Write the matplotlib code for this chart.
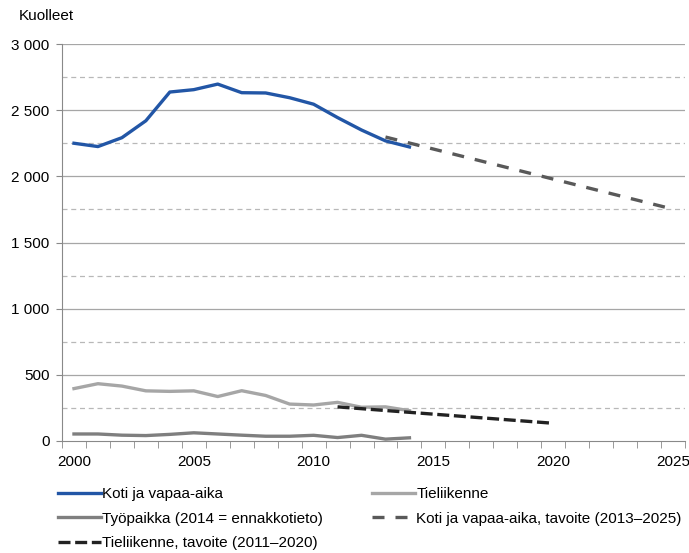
import matplotlib.pyplot as plt
from matplotlib.ticker import FuncFormatter, MultipleLocator

plt.rcParams['font.family'] = ['Liberation Sans', 'DejaVu Sans']

years = list(range(2000, 2015))
koti = [2250, 2225, 2292, 2420, 2637, 2655, 2697, 2632, 2630, 2594, 2545, 2444, 2350, 2268, 2222]
tieliikenne = [396, 433, 415, 379, 375, 379, 336, 380, 344, 279, 272, 292, 255, 258, 229]
tyopaikka = [53, 53, 44, 41, 50, 62, 53, 44, 36, 36, 43, 26, 43, 14, 24]

koti_goal_years = [2013, 2025]
koti_goal = [2297, 1752]
tie_goal_years = [2011, 2020]
tie_goal = [258, 134]

labels = ["Koti ja vapaa-aika", "Tieliikenne", "Työpaikka (2014 = ennakkotieto)",
          "Koti ja vapaa-aika, tavoite (2013–2025)", "Tieliikenne, tavoite (2011–2020)"]

fs = 11

fig = plt.figure(figsize=(6.89, 5.53), dpi=100)
ax = fig.add_axes([62/689, 1-441/553, 623/689, 397/553])

l1, = ax.plot(years, koti, color="#2256A6", lw=2.4)
l2, = ax.plot(years, tieliikenne, color="#A6A6A6", lw=2.4)
l3, = ax.plot(years, tyopaikka, color="#7F7F7F", lw=2.4)
l4, = ax.plot(koti_goal_years, koti_goal, color="#595959", lw=2.4, dashes=(3.6, 3.3))
l5, = ax.plot(tie_goal_years, tie_goal, color="#222222", lw=2.4, dashes=(3.6, 1.4))

ax.set_xlim(1999.5, 2025.5)
ax.set_ylim(0, 3000)
ax.set_xticks(range(2000, 2026, 5))
ax.set_xticks([y + 0.5 for y in range(1999, 2026)], minor=True)
ax.tick_params(axis="x", which="major", length=0, labelsize=fs, pad=10)
ax.tick_params(axis="x", which="minor", length=5, color="#898989", direction="out")
ax.yaxis.set_major_locator(MultipleLocator(500))
ax.yaxis.set_major_formatter(FuncFormatter(lambda v, p: f"{int(v):,}".replace(",", " ")))
ax.tick_params(axis="y", length=4, color="#898989", labelsize=fs, pad=5)

for v in range(500, 3001, 500):
    ax.axhline(v, color="#A6A6A6", lw=0.9, zorder=0)
for v in range(250, 3000, 500):
    ax.axhline(v, color="#B8B8B8", lw=0.9, ls=(0, (4, 3)), zorder=0)

for s in ["top", "right"]:
    ax.spines[s].set_visible(False)
for s in ["left", "bottom"]:
    ax.spines[s].set_color("#898989")

fig.text(19/689, 1-16/553, "Kuolleet", fontsize=fs, va="center")

fig.legend([l1, l3, l5, l2, l4], [labels[0], labels[2], labels[4], labels[1], labels[3]],
           ncol=2, loc="upper left", bbox_to_anchor=(52/689, 1-481/553), frameon=False,
           fontsize=fs, handlelength=2.8, handletextpad=0.1, columnspacing=3.2,
           labelspacing=0.7, borderaxespad=0)

fig.savefig("out.png", dpi=100)
